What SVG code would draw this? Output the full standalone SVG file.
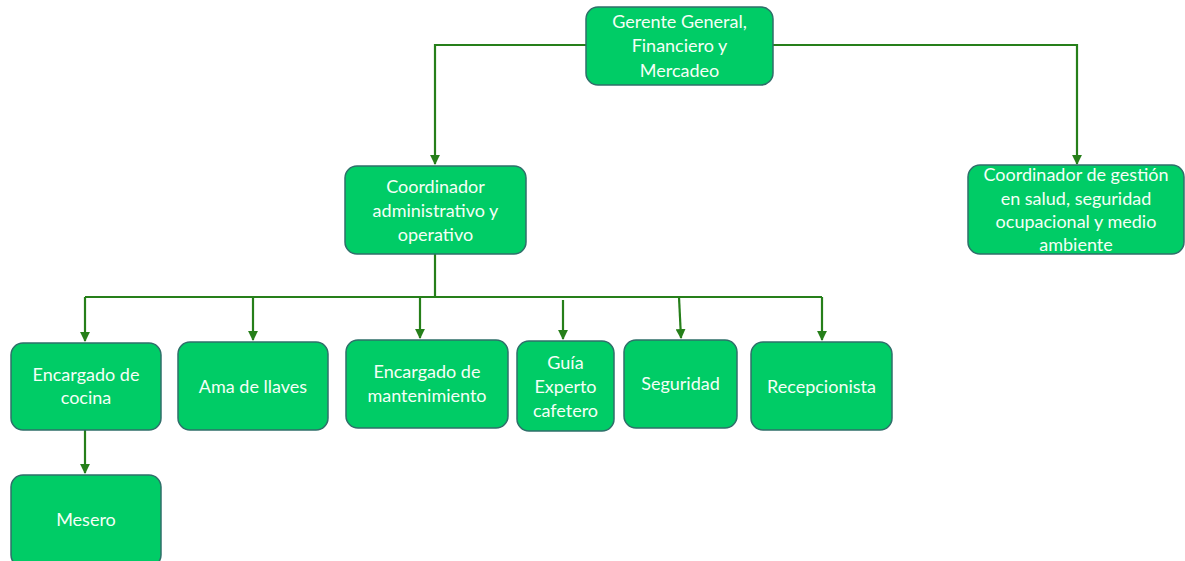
<svg xmlns="http://www.w3.org/2000/svg" width="1185" height="561" viewBox="0 0 1185 561">
<style>
.box{fill:#00CC66;stroke:#2F6F6A;stroke-width:1.5}
.t{font-family:Lato,"Liberation Sans",sans-serif;font-size:18px;fill:#F4FFF6;text-anchor:middle}
.c{fill:none;stroke:#267F1A;stroke-width:2.2}
</style>
<defs>
<marker id="ah" viewBox="0 0 10 10" refX="9" refY="5" markerWidth="4.5" markerHeight="4.5" orient="auto">
<path d="M0,0 L10,5 L0,10 z" fill="#267F1A"/>
</marker>
</defs>
<rect width="1185" height="561" fill="#fff"/>
<g id="connectors">
<path class="c" d="M586,45 H435 V164" marker-end="url(#ah)"/>
<path class="c" d="M773,45 H1077 V164" marker-end="url(#ah)"/>
<path class="c" d="M435,254 V297"/>
<path class="c" d="M85,297 H822"/>
<path class="c" d="M85,297 V341" marker-end="url(#ah)"/>
<path class="c" d="M253,297 V340" marker-end="url(#ah)"/>
<path class="c" d="M420,297 V338" marker-end="url(#ah)"/>
<path class="c" d="M563,300 V339" marker-end="url(#ah)"/>
<path class="c" d="M679,297 L681,338" marker-end="url(#ah)"/>
<path class="c" d="M822,297 V340" marker-end="url(#ah)"/>
<path class="c" d="M85,430 V473" marker-end="url(#ah)"/>
</g>
<g id="gerente"><rect class="box" x="586" y="7" width="187" height="78" rx="12"/>
<text class="t" x="679.5" y="28">Gerente General,</text><text class="t" x="679.5" y="52">Financiero y</text><text class="t" x="679.5" y="77">Mercadeo</text></g>
<g id="coord-admin"><rect class="box" x="345" y="166" width="181" height="88" rx="12"/>
<text class="t" x="435.5" y="193">Coordinador</text><text class="t" x="435.5" y="217">administrativo y</text><text class="t" x="435.5" y="241">operativo</text></g>
<g id="coord-gestion"><rect class="box" x="968" y="165" width="216" height="89" rx="12"/>
<text class="t" x="1076" y="181">Coordinador de gestión</text><text class="t" x="1076" y="205">en salud, seguridad</text><text class="t" x="1076" y="228">ocupacional y medio</text><text class="t" x="1076" y="251">ambiente</text></g>
<g id="cocina"><rect class="box" x="11" y="343" width="150" height="87" rx="12"/>
<text class="t" x="86" y="381">Encargado de</text><text class="t" x="86" y="404">cocina</text></g>
<g id="ama"><rect class="box" x="178" y="342" width="150" height="88" rx="12"/>
<text class="t" x="253" y="393">Ama de llaves</text></g>
<g id="mantenimiento"><rect class="box" x="346" y="340" width="162" height="88" rx="12"/>
<text class="t" x="427" y="378">Encargado de</text><text class="t" x="427" y="402">mantenimiento</text></g>
<g id="guia"><rect class="box" x="517" y="341" width="97" height="90" rx="12"/>
<text class="t" x="565.5" y="369">Guía</text><text class="t" x="565.5" y="393">Experto</text><text class="t" x="565.5" y="417">cafetero</text></g>
<g id="seguridad"><rect class="box" x="624" y="340" width="113" height="88" rx="12"/>
<text class="t" x="680.5" y="390">Seguridad</text></g>
<g id="recepcionista"><rect class="box" x="751" y="342" width="141" height="88" rx="12"/>
<text class="t" x="821.5" y="393">Recepcionista</text></g>
<g id="mesero"><rect class="box" x="11" y="475" width="150" height="92" rx="12"/>
<text class="t" x="86" y="526">Mesero</text></g>
</svg>
